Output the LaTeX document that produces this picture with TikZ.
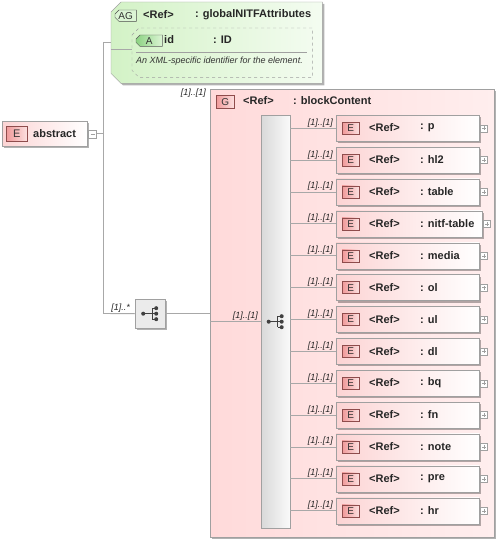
\documentclass[tikz,border=0pt]{standalone}
\usepackage{fontspec}
\setmainfont{Liberation Sans}
\usetikzlibrary{positioning, shadows}
\definecolor{wiregray}{HTML}{A8A8A8}
\definecolor{boxgray}{HTML}{A0A0A0}
\definecolor{elemL}{HTML}{FCD4D4}
\definecolor{badgeL}{HTML}{F09A9A}
\definecolor{badgeR}{HTML}{FCE0E0}
\definecolor{badgeD}{HTML}{8E4C4C}
\definecolor{grpL}{HTML}{FFDADA}
\definecolor{grpR}{HTML}{FFEEEE}
\definecolor{agL}{HTML}{D3F2C6}
\definecolor{agR}{HTML}{F4FCF1}
\definecolor{attL}{HTML}{8CD282}
\definecolor{attR}{HTML}{DCF5D5}
\definecolor{icondark}{HTML}{404040}
\tikzstyle{wire}=[draw=wiregray,line width=.9pt]
\tikzstyle{boxshadow}=[drop shadow={shadow xshift=2pt,shadow yshift=-2pt,opacity=.3,fill=black}]
\tikzstyle{elem}=[draw=boxgray,left color=elemL,right color=white,boxshadow,anchor=north west,minimum height=26,inner sep=0pt]
\tikzstyle{ebadge}=[draw=badgeD,left color=badgeL,right color=badgeR,minimum width=17,minimum height=12,inner sep=0pt,font=\fontsize{10}{10}\selectfont,text=black!80]
\tikzstyle{lbl}=[font=\fontsize{11}{13}\selectfont\bfseries,inner sep=0pt,anchor=west,text=black!85]
\tikzstyle{card}=[font=\fontsize{9}{10}\selectfont\itshape,inner sep=0pt,text=black!85]
\tikzstyle{pmbox}=[draw=boxgray,fill=white,minimum size=7,inner sep=0pt]
\tikzstyle{frame}=[anchor=north west,inner sep=0pt,draw=none]
% chamfered outline round a node: node, chamfer, style
\newcommand\chamf[3]{\draw[#3] ([yshift=-#2]#1.north west) -- ([xshift=#2]#1.north west) -- (#1.north east) -- (#1.south east) -- ([xshift=#2]#1.south west) -- ([yshift=#2]#1.south west) -- cycle;}
% sequence icon round a point
\newcommand\seqicon[1]{%
  \fill[icondark] ([xshift=-7pt]#1) circle (2pt);
  \draw[icondark,line width=1pt] ([xshift=-7pt]#1) -- ([xshift=2pt]#1) ([xshift=2pt,yshift=5.5pt]#1) -- ([xshift=2pt,yshift=-5.5pt]#1);
  \foreach \dy in {-5.5,0,5.5} {
    \draw[icondark,line width=1pt] ([xshift=2pt,yshift=\dy pt]#1) -- ([xshift=6pt,yshift=\dy pt]#1);
    \fill[icondark] ([xshift=6pt,yshift=\dy pt]#1) circle (2pt);}}

\begin{document}
\begin{tikzpicture}[x=1pt,y=-1pt]
  \useasboundingbox (0,0) rectangle (500,543);
  % attribute group
  \node[frame,minimum width=211,minimum height=81] (agrp) at (111,2) {};
  \chamf{agrp}{10pt}{draw=boxgray,left color=agL,right color=agR,boxshadow}
  \node[frame,minimum width=21,minimum height=11] (agbdg) at (115,10) {};
  \chamf{agbdg}{4pt}{draw=black!70,fill=attR}
  \node[font=\fontsize{10}{10}\selectfont,text=black!80,inner sep=0pt] at (agbdg) {AG};
  \node[lbl] (agref) at (143,15) {<Ref>};
  \node[lbl] (agnm) at (195,15) {: globalNITFAttributes};
  \node[frame,minimum width=180,minimum height=49] (att) at (132,28) {};
  \chamf{att}{7pt}{draw=boxgray,dashed}
  \node[frame,minimum width=26,minimum height=11] (abdg) at (136,35) {};
  \chamf{abdg}{4pt}{draw=black!65,left color=attL,right color=attR}
  \node[font=\fontsize{10}{10}\selectfont,text=black!80,inner sep=0pt] at (abdg) {A};
  \node[lbl] (attid) at (164,40) {id};
  \node[lbl] (atttp) at (213,40) {: ID};
  \draw[boxgray] (136,52) -- (307,52);
  \node[font=\fontsize{9}{10}\selectfont\itshape,inner sep=0pt,anchor=west,text=black!80] (attdoc) at (136,61) {An XML-specific identifier for the element.};
  % abstract
  \node[elem,minimum width=85,minimum height=25] (abs) at (2,121) {};
  \node[ebadge,minimum width=21,minimum height=15,font=\fontsize{11}{11}\selectfont,right=4pt of abs.west] (absbdg) {E};
  \node[lbl] (absnm) at (33,134) {abstract};
  \node[pmbox,minimum size=8,right=1pt of abs.east] (mns) {};
  \draw[boxgray] ([xshift=-2pt]mns.center) -- ([xshift=2pt]mns.center);
  % group
  \node[elem,left color=grpL,right color=grpR,minimum width=284,minimum height=448] (grp) at (210,89) {};
  \node[ebadge,minimum width=18,minimum height=13,anchor=north west] (gbdg) at (216,95) {G};
  \node[lbl] (gref) at (243,101) {<Ref>};
  \node[lbl] (gnm) at (293,101) {: blockContent};
  \node[card,below left=0pt and 4pt of grp.north west] {[1]..[1]};
  \node[frame,draw=boxgray,left color=black!15,right color=black!2,minimum width=29,minimum height=413] (seq) at (261,115) {};
  \seqicon{seq.center}
  % sequence
  \node[frame,draw=boxgray,fill=black!8,boxshadow,minimum width=30,minimum height=29] (cmp) at (135,299) {};
  \seqicon{cmp.center}
  \coordinate (jt) at (103,42);
  \coordinate (jb) at (103,313.5);
  \draw[wire] (jt) -- (jb);
  \draw[wire] (jt) -- (jt -| agrp.west);
  \draw[wire] ([yshift=-7pt]agrp.west) -- ([yshift=-7pt]agrp.west -| att.west);
  \draw[wire] (mns.east) -- (mns.east -| jt);
  \draw[wire] (jb) -- (cmp.west);
  \draw[wire] (cmp.east) -- (cmp.east -| grp.west);
  \draw[wire] (grp.west |- seq.west) -- (seq.west);
  \node[card,above left=1pt and 5pt of cmp.west] {[1]..*};
  \node[card,above left=1pt and 3pt of seq.west] {[1]..[1]};
  % elements
  \foreach \nm/\w [count=\i from 0] in {p/143,hl2/143,table/143,nitf-table/146,media/143,ol/143,ul/143,dl/143,bq/143,fn/143,note/143,pre/143,hr/143} {
    \node[elem,minimum width=\w] (e\i) at (336,115+31.875*\i) {};
    \node[ebadge,right=6pt of e\i.west] (b\i) {E};
    \node[lbl] (r\i) at (369,128+31.875*\i) {<Ref>};
    \node[lbl] (n\i) at (420,128+31.875*\i) {: \nm};
    \node[pmbox,right=1pt of e\i.east] (x\i) {};
    \draw[boxgray] ([xshift=-2pt]x\i.center) -- ([xshift=2pt]x\i.center) ([yshift=-2pt]x\i.center) -- ([yshift=2pt]x\i.center);
    \draw[wire] (seq.east |- e\i.west) -- (e\i.west);
    \node[card,above left=1pt and 3pt of e\i.west] {[1]..[1]};}
\end{tikzpicture}
\end{document}
